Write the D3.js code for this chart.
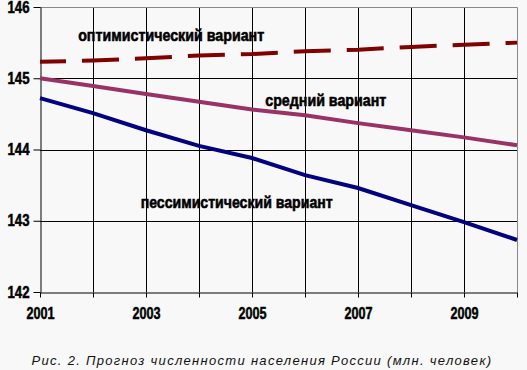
<!DOCTYPE html>
<html>
<head>
<meta charset="utf-8">
<script src="https://cdn.jsdelivr.net/npm/d3@7"></script>
<style>
  body { margin: 0; background: #f8f8f8; }
  svg { display: block; }
  .axis path, .axis line { stroke: #000; }
  .axis text { font-family: "Liberation Sans", Arial, sans-serif; font-weight: bold; font-size: 16px; fill: #000; stroke: #000; stroke-width: 0.5px; }
  .lbl { font-family: "Liberation Sans", Arial, sans-serif; font-weight: bold; font-size: 17px; fill: #000; stroke: #000; stroke-width: 0.6px; }
  .caption { font-family: "Liberation Sans", sans-serif; font-style: italic; font-size: 13px; fill: #111; letter-spacing: 1.3px; }
</style>
</head>
<body>
<svg width="527" height="370"></svg>
<script>
var years = [2001, 2002, 2003, 2004, 2005, 2006, 2007, 2008, 2009, 2010];
var optimistic = [145.23, 145.25, 145.28, 145.32, 145.34, 145.38, 145.40, 145.44, 145.47, 145.50];
var medium = [145.00, 144.89, 144.78, 144.67, 144.56, 144.48, 144.37, 144.27, 144.17, 144.06];
var pessimistic = [144.72, 144.51, 144.27, 144.05, 143.88, 143.64, 143.46, 143.22, 142.98, 142.73];
var yTicks = [142, 143, 144, 145, 146];
var xLabels = [2001, 2003, 2005, 2007, 2009];
var caption = "Рис. 2. Прогноз численности населения России (млн. человек)";

var svg = d3.select("svg"),
    pLeft = 40, pRight = 517, pTop = 7, pBottom = 292;

var x = d3.scaleLinear().domain([2001, 2010]).range([pLeft, pRight]),
    y = d3.scaleLinear().domain([142, 146]).range([pBottom, pTop]);

// grid
var g = svg.append("g");
g.selectAll(".vgrid")
  .data(years.slice(1, -1))
  .enter().append("line")
    .attr("x1", function(d) { return Math.round(x(d)) + 0.5; })
    .attr("x2", function(d) { return Math.round(x(d)) + 0.5; })
    .attr("y1", pTop).attr("y2", pBottom)
    .attr("stroke", "#000");
g.selectAll(".hgrid")
  .data(yTicks.slice(1, -1))
  .enter().append("line")
    .attr("x1", pLeft).attr("x2", pRight)
    .attr("y1", function(d) { return Math.round(y(d)) + 0.5; })
    .attr("y2", function(d) { return Math.round(y(d)) + 0.5; })
    .attr("stroke", "#000");

// top + right border
svg.append("path")
  .attr("d", "M" + pLeft + "," + (pTop + 0.5) + "H" + (pRight + 0.5) + "V" + pBottom)
  .attr("fill", "none")
  .attr("stroke", "#888");

// axes
var xAxis = svg.append("g")
    .attr("class", "axis")
    .attr("transform", "translate(0," + (pBottom + 0.5) + ")")
    .call(d3.axisBottom(x)
      .tickValues(years)
      .tickSize(5)
      .tickPadding(10)
      .tickSizeOuter(0)
      .tickFormat(function(d) { return xLabels.indexOf(d) >= 0 ? d : ""; }));
xAxis.selectAll("text").filter(function() { return this.textContent; })
    .attr("textLength", 28).attr("lengthAdjust", "spacingAndGlyphs");

var yAxis = svg.append("g")
    .attr("class", "axis")
    .attr("transform", "translate(" + (pLeft + 0.5) + ",0)")
    .call(d3.axisLeft(y)
      .tickValues(yTicks)
      .tickSize(7)
      .tickPadding(4)
      .tickSizeOuter(0)
      .tickFormat(d3.format("d")));
yAxis.selectAll("text")
    .attr("textLength", 22).attr("lengthAdjust", "spacingAndGlyphs");

// series
var line = d3.line()
  .x(function(d, i) { return x(years[i]); })
  .y(function(d) { return y(d); });

svg.append("path")
  .attr("d", line(medium))
  .attr("fill", "none")
  .attr("stroke", "#993366")
  .attr("stroke-width", 4);

svg.append("path")
  .attr("d", line(pessimistic))
  .attr("fill", "none")
  .attr("stroke", "#000080")
  .attr("stroke-width", 4);

svg.append("path")
  .attr("d", line(optimistic))
  .attr("fill", "none")
  .attr("stroke", "#800000")
  .attr("stroke-width", 4)
  .attr("stroke-dasharray", "37,16")
  .attr("stroke-dashoffset", 11);

// labels
svg.append("text").attr("class", "lbl")
  .attr("x", x(2001.72)).attr("y", y(145.52))
  .attr("textLength", 186).attr("lengthAdjust", "spacingAndGlyphs")
  .text("оптимистический вариант");
svg.append("text").attr("class", "lbl")
  .attr("x", x(2005.25)).attr("y", y(144.61))
  .attr("textLength", 121).attr("lengthAdjust", "spacingAndGlyphs")
  .text("средний вариант");
svg.append("text").attr("class", "lbl")
  .attr("x", x(2002.9)).attr("y", y(143.18))
  .attr("textLength", 192).attr("lengthAdjust", "spacingAndGlyphs")
  .text("пессимистический вариант");

svg.append("text").attr("class", "caption")
  .attr("x", 262).attr("y", 365)
  .attr("text-anchor", "middle")
  .text(caption);
</script>
</body>
</html>
